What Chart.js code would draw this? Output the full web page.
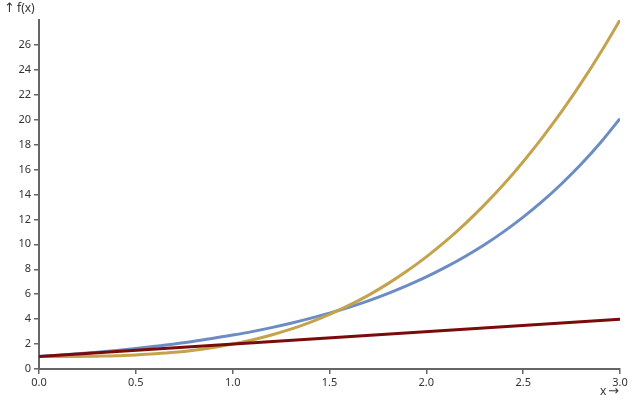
<!DOCTYPE html>
<html>
<head>
<meta charset="utf-8">
<script src="https://cdn.jsdelivr.net/npm/chart.js@4"></script>
<style>
  html, body { margin: 0; padding: 0; background: #fff; }
  #wrap { width: 640px; height: 400px; }
</style>
</head>
<body>
<div id="wrap"><canvas id="chart" width="640" height="400"></canvas></div>
<script>
const xValues = [0, 0.1, 0.2, 0.3, 0.4, 0.5, 0.6, 0.7, 0.8, 0.9, 1.0, 1.1, 1.2, 1.3, 1.4, 1.5,
  1.6, 1.7, 1.8, 1.9, 2.0, 2.1, 2.2, 2.3, 2.4, 2.5, 2.6, 2.7, 2.8, 2.9, 3.0];
const blueValues = [1, 1.11, 1.22, 1.35, 1.49, 1.65, 1.82, 2.01, 2.23, 2.46, 2.72, 3.0, 3.32, 3.67,
  4.06, 4.48, 4.95, 5.47, 6.05, 6.69, 7.39, 8.17, 9.03, 9.97, 11.02, 12.18, 13.46, 14.88, 16.44, 18.17, 20.09];
const goldValues = [1, 1.0, 1.01, 1.03, 1.06, 1.13, 1.22, 1.34, 1.51, 1.73, 2.0, 2.33, 2.73, 3.2,
  3.74, 4.38, 5.1, 5.91, 6.83, 7.86, 9.0, 10.26, 11.65, 13.17, 14.82, 16.63, 18.58, 20.68, 22.95, 25.39, 28.0];
const redX = [0, 3];
const redValues = [1, 4];

const toPoints = (xs, ys) => xs.map((x, i) => ({ x: x, y: ys[i] }));

const axisColor = '#666';
const labelColor = '#333';
const fontSpec = { family: 'Noto Sans', size: 11 };

// axis name labels with arrows, drawn at the corners like the original
const arrowLabels = {
  id: 'arrowLabels',
  afterDraw(chart) {
    const ctx = chart.ctx;
    ctx.save();
    ctx.fillStyle = labelColor;
    ctx.textBaseline = 'middle';
    ctx.textAlign = 'left';
    ctx.font = '13px "DejaVu Sans"';
    ctx.fillText('\u2191', 4, 9);
    ctx.font = '12px "Noto Sans"';
    ctx.fillText('f(x)', 17, 9);
    ctx.fillText('x', 600, 392);
    ctx.font = '13px "DejaVu Sans"';
    ctx.fillText('\u2192', 608, 392);
    ctx.restore();
  }
};

new Chart(document.getElementById('chart'), {
  type: 'line',
  data: {
    datasets: [
      { data: toPoints(redX, redValues), borderColor: '#7b0a0a', borderWidth: 3 },
      { data: toPoints(xValues, goldValues), borderColor: '#c4a34c', borderWidth: 3, cubicInterpolationMode: 'monotone' },
      { data: toPoints(xValues, blueValues), borderColor: '#6b8dc4', borderWidth: 3, cubicInterpolationMode: 'monotone' }
    ]
  },
  options: {
    responsive: false,
    animation: false,
    elements: { point: { radius: 0 } },
    layout: { padding: { top: 20, right: 20, left: 0, bottom: 0 } },
    plugins: { legend: { display: false }, tooltip: { enabled: false } },
    scales: {
      x: {
        type: 'linear',
        min: 0,
        max: 3,
        afterFit(scale) { scale.height = 31; },
        ticks: {
          stepSize: 0.5,
          color: labelColor,
          font: fontSpec,
          padding: 2,
          maxRotation: 0,
          callback: v => v.toFixed(1)
        },
        grid: { drawOnChartArea: false, drawTicks: true, tickLength: 5, color: axisColor, lineWidth: 1.5 },
        border: { color: axisColor, width: 2 }
      },
      y: {
        type: 'linear',
        min: 0,
        max: 28,
        afterFit(scale) { scale.width = 39; },
        afterBuildTicks(scale) { scale.ticks = scale.ticks.filter(t => t.value < 28); },
        ticks: { stepSize: 2, color: labelColor, font: fontSpec, padding: 3 },
        grid: { drawOnChartArea: false, drawTicks: true, tickLength: 5, color: axisColor, lineWidth: 1.5 },
        border: { color: axisColor, width: 2 }
      }
    }
  },
  plugins: [arrowLabels]
});
</script>
</body>
</html>
